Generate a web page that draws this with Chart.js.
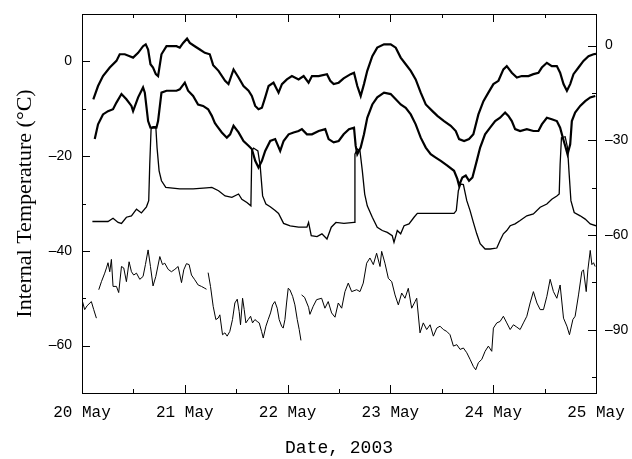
<!DOCTYPE html>
<html>
<head>
<meta charset="utf-8">
<script src="https://cdn.jsdelivr.net/npm/chart.js@4.4.1/dist/chart.umd.min.js"></script>
<style>
  html, body { margin: 0; padding: 0; background: #ffffff; }
  #wrap { width: 632px; height: 459px; }
</style>
</head>
<body>
<div id="wrap"><canvas id="c" width="632" height="459"></canvas></div>
<script>
// ---- Data (time in days after 20 May 2003 00:00) ----
const dateLabels = ['20 May', '21 May', '22 May', '23 May', '24 May', '25 May'];
const rightTickValues = [-105, -90, -75, -60, -45, -30, -15, 0];

const seriesATime = [0.110,0.156,0.204,0.270,0.335,0.367,0.416,0.464,0.497,0.546,0.594,0.620,0.643,0.666,0.691,0.718,0.740,0.773,0.822,0.919,0.951,0.984,1.022,1.049,1.097,1.146,1.195,1.243,1.276,1.328,1.392,1.425,1.474,1.523,1.571,1.620,1.652,1.685,1.717,1.750,1.782,1.815,1.863,1.912,1.945,1.993,2.042,2.107,2.156,2.204,2.237,2.302,2.383,2.415,2.448,2.497,2.545,2.613,2.646,2.678,2.711,2.743,2.775,2.824,2.872,2.938,3.003,3.052,3.100,3.149,3.198,3.246,3.295,3.344,3.409,3.457,3.522,3.587,3.636,3.668,3.717,3.765,3.807,3.856,3.905,3.953,4.002,4.051,4.099,4.132,4.181,4.230,4.278,4.343,4.391,4.440,4.473,4.522,4.570,4.619,4.651,4.684,4.717,4.749,4.781,4.830,4.878,4.927,4.976,5.000];
const seriesAVal  = [-8.0,-5.2,-3.1,-1.3,0.1,1.5,1.5,1.1,0.8,1.8,3.2,3.6,2.5,-0.6,-1.3,-2.7,-3.1,1.5,3.2,3.2,2.9,3.9,4.8,3.9,3.2,2.5,1.8,1.5,-0.8,-2.0,-4.1,-4.8,-1.7,-3.4,-5.2,-6.2,-7.3,-9.4,-10.1,-9.8,-7.6,-5.2,-4.5,-6.6,-4.8,-3.8,-3.1,-3.8,-3.1,-4.5,-3.1,-3.1,-2.7,-4.1,-4.8,-4.5,-3.6,-2.7,-2.4,-5.2,-7.3,-4.8,-2.0,1.1,2.9,3.6,3.6,2.9,0.8,-0.6,-2.0,-3.8,-6.6,-9.1,-10.5,-11.5,-12.6,-13.6,-14.7,-16.4,-16.8,-16.4,-15.4,-11.2,-8.4,-6.6,-4.8,-4.1,-1.7,-1.0,-2.4,-3.4,-3.1,-3.1,-2.7,-2.4,-1.3,-0.3,-1.0,-1.0,-2.4,-4.8,-6.2,-4.8,-2.7,-1.3,0.1,1.1,1.5,1.6];

const seriesBTime = [0.124,0.156,0.204,0.253,0.302,0.335,0.384,0.432,0.481,0.497,0.546,0.594,0.611,0.643,0.666,0.724,0.740,0.773,0.822,0.919,0.951,1.000,1.032,1.081,1.129,1.178,1.227,1.263,1.292,1.312,1.360,1.409,1.441,1.474,1.523,1.571,1.620,1.652,1.685,1.717,1.750,1.782,1.831,1.879,1.928,1.961,2.010,2.058,2.107,2.139,2.188,2.237,2.302,2.366,2.399,2.448,2.497,2.545,2.597,2.646,2.662,2.678,2.711,2.743,2.775,2.824,2.872,2.938,3.003,3.052,3.100,3.149,3.198,3.246,3.295,3.344,3.392,3.441,3.490,3.554,3.619,3.651,3.668,3.700,3.733,3.765,3.798,3.840,3.873,3.921,3.970,4.019,4.067,4.116,4.148,4.181,4.213,4.262,4.327,4.391,4.440,4.473,4.522,4.570,4.619,4.651,4.677,4.700,4.723,4.749,4.765,4.797,4.846,4.895,4.944,4.993];
const seriesBVal  = [-16.4,-13.3,-11.2,-10.5,-10.1,-8.7,-6.9,-8.0,-9.4,-10.5,-7.6,-5.5,-6.6,-12.6,-14.0,-14.0,-12.6,-6.6,-6.2,-6.2,-5.9,-4.5,-6.2,-7.3,-9.1,-9.4,-10.1,-11.5,-13.0,-13.6,-15.0,-16.1,-15.4,-13.6,-15.0,-16.8,-17.8,-18.5,-21.0,-22.4,-21.0,-18.9,-16.8,-16.4,-18.9,-16.8,-15.4,-15.0,-14.7,-14.3,-15.4,-15.4,-14.7,-14.3,-16.4,-17.1,-16.8,-15.4,-14.3,-14.0,-17.8,-19.6,-18.2,-15.4,-11.9,-9.1,-7.6,-6.6,-6.9,-8.0,-9.1,-9.8,-11.2,-13.3,-16.1,-18.2,-19.6,-20.3,-21.0,-22.0,-23.1,-24.8,-26.2,-24.5,-24.1,-25.2,-24.5,-21.0,-18.2,-15.4,-14.0,-12.6,-11.9,-10.8,-11.5,-12.6,-14.3,-14.7,-14.3,-14.7,-14.7,-13.3,-11.9,-12.2,-12.6,-14.0,-16.1,-17.8,-19.6,-17.5,-12.6,-10.8,-9.4,-8.4,-7.6,-7.3];

const seriesCTime = [0.101,0.253,0.302,0.351,0.384,0.432,0.481,0.530,0.578,0.627,0.649,0.659,0.672,0.691,0.718,0.730,0.750,0.773,0.815,0.951,1.081,1.211,1.263,1.328,1.392,1.458,1.523,1.555,1.604,1.643,1.652,1.669,1.711,1.733,1.757,1.789,1.831,1.879,1.912,1.961,2.025,2.107,2.188,2.204,2.230,2.286,2.334,2.383,2.425,2.470,2.548,2.646,2.655,2.678,2.704,2.727,2.750,2.775,2.824,2.872,2.921,2.970,3.018,3.035,3.067,3.100,3.133,3.181,3.230,3.262,3.392,3.619,3.641,3.661,3.684,3.710,3.743,3.775,3.807,3.840,3.873,3.921,3.970,4.035,4.067,4.099,4.132,4.165,4.213,4.262,4.327,4.391,4.457,4.522,4.570,4.619,4.642,4.651,4.664,4.700,4.723,4.739,4.756,4.788,4.846,4.895,4.944,5.000];
const seriesCVal  = [-33.8,-33.8,-33.1,-34.0,-34.2,-32.9,-32.6,-31.2,-32.0,-30.7,-29.4,-21.7,-14.3,-13.8,-13.8,-18.2,-23.1,-25.2,-26.6,-26.9,-26.9,-26.7,-26.6,-27.3,-28.4,-28.7,-28.0,-29.1,-29.8,-30.5,-18.9,-18.3,-18.9,-22.0,-28.4,-30.1,-30.7,-31.5,-32.1,-34.2,-34.7,-35.0,-35.0,-34.0,-36.8,-37.0,-36.4,-37.5,-35.0,-34.0,-34.2,-34.0,-19.6,-18.5,-18.9,-23.1,-28.0,-30.5,-32.9,-35.0,-35.7,-36.1,-36.8,-38.2,-35.7,-36.4,-34.7,-34.3,-32.9,-32.1,-32.1,-32.1,-31.5,-27.3,-25.9,-26.0,-29.4,-31.5,-34.0,-36.4,-38.5,-39.6,-39.6,-39.4,-37.8,-36.4,-35.7,-34.7,-34.3,-33.6,-32.6,-32.2,-30.8,-30.1,-29.1,-28.4,-28.0,-21.7,-16.1,-15.9,-18.2,-23.8,-29.4,-31.9,-32.6,-33.3,-34.3,-34.7];

// null values mark the gaps in the record
const seriesDTime = [0.000,0.026,0.049,0.091,0.114,0.140,0.150,
  0.163,0.189,0.221,0.238,0.253,0.270,0.286,0.302,0.335,0.357,0.384,0.406,0.432,0.458,0.481,0.503,0.530,0.562,0.594,0.617,0.643,0.666,0.691,0.718,0.757,0.783,0.805,0.838,0.870,0.903,0.935,0.968,0.990,1.016,1.042,1.065,1.097,1.130,1.162,1.195,1.211,1.219,
  1.227,1.250,1.276,1.302,1.324,1.341,1.367,1.390,1.412,1.438,1.464,1.487,1.510,1.529,1.542,1.562,1.578,1.594,1.617,1.640,1.659,1.682,1.704,1.724,1.747,1.763,1.789,1.811,1.834,1.854,1.876,1.899,1.918,1.942,1.957,1.974,1.990,2.006,2.022,2.049,2.071,2.094,2.113,2.130,2.133,
  2.136,2.165,2.204,2.217,2.249,2.282,2.331,2.363,2.395,2.428,2.461,2.493,2.526,2.558,2.590,2.623,2.672,2.704,2.736,2.769,2.801,2.834,2.866,2.899,2.915,2.947,2.980,3.013,3.045,3.077,3.110,3.142,3.174,3.207,3.240,3.256,3.288,3.320,3.353,3.386,3.418,3.451,3.483,3.515,3.548,3.580,3.613,3.646,3.678,3.710,3.743,3.775,3.807,3.830,3.856,3.889,3.921,3.953,3.986,4.002,4.035,4.067,4.099,4.132,4.165,4.197,4.230,4.262,4.294,4.327,4.359,4.391,4.425,4.457,4.489,4.522,4.554,4.586,4.619,4.651,4.684,4.717,4.742,4.775,4.797,4.830,4.862,4.878,4.905,4.921,4.944,4.960,4.976,4.992];
const seriesDVal  = [-50.3,-52.4,-51.6,-50.7,-52.4,-54.2,null,
  -48.2,-46.5,-44.7,-43.6,-42.5,-44.4,-41.8,-47.5,-47.5,-48.8,-43.3,-43.6,-46.5,-42.3,-44.4,-45.1,-44.7,-46.0,-45.4,-42.9,-39.8,-43.3,-47.4,-45.4,-41.2,-42.9,-42.6,-43.9,-44.4,-43.9,-43.3,-46.7,-44.0,-42.7,-42.9,-45.1,-46.1,-47.2,-47.5,-47.9,-48.1,null,
  -44.6,-47.5,-51.7,-54.5,-54.2,-53.5,-57.7,-57.3,-58.0,-57.0,-54.5,-51.0,-50.2,-52.8,-55.6,-50.0,-52.4,-55.2,-54.5,-53.8,-55.2,-54.5,-54.9,-55.2,-57.0,-58.4,-55.9,-54.5,-53.1,-51.4,-50.7,-52.1,-54.5,-55.9,-56.3,-54.5,-51.0,-47.9,-48.2,-49.6,-51.4,-54.5,-56.6,-58.9,null,
  -49.3,-49.8,-51.9,-53.4,-51.7,-50.3,-50.0,-52.1,-50.7,-53.1,-54.0,-51.0,-52.1,-48.6,-46.8,-48.6,-48.2,-48.6,-46.8,-42.6,-41.5,-42.9,-40.5,-43.3,-40.1,-42.6,-45.8,-46.5,-49.3,-51.4,-48.9,-50.0,-47.9,-52.1,-50.7,-50.0,-57.3,-55.2,-56.6,-55.6,-58.0,-56.3,-55.9,-56.6,-57.0,-57.7,-60.1,-59.8,-60.8,-60.5,-61.5,-62.9,-64.4,-65.1,-63.6,-62.9,-61.2,-60.1,-61.2,-56.3,-55.2,-54.9,-53.8,-55.2,-56.6,-55.6,-56.1,-56.6,-55.2,-53.8,-51.0,-48.6,-51.0,-52.4,-52.4,-49.6,-46.0,-48.6,-50.0,-47.2,-54.2,-55.9,-57.7,-54.5,-53.8,-49.3,-44.4,-44.0,-48.6,-44.0,-39.9,-42.9,-42.5,-43.3];

function pts(ts, vs) { return ts.map((t, i) => ({ x: t, y: vs[i] })); }

// ---- inward tick marks on all four sides, positioned by the scales ----
const innerTicks = {
  id: 'innerTicks',
  afterDraw(chart) {
    const ctx = chart.ctx, a = chart.chartArea;
    const x = chart.scales.x, y = chart.scales.y, y2 = chart.scales.y2;
    ctx.save();
    ctx.strokeStyle = '#000';
    ctx.lineWidth = 1;
    const seg = (p1, q1, p2, q2) => { ctx.beginPath(); ctx.moveTo(p1, q1); ctx.lineTo(p2, q2); ctx.stroke(); };
    x.ticks.forEach(t => {
      if (t.value <= x.min || t.value >= x.max) return;
      const px = Math.round(x.getPixelForValue(t.value)) + 0.5;
      const len = Number.isInteger(t.value) ? 8 : 4;
      seg(px, a.bottom, px, a.bottom - len);
      seg(px, a.top, px, a.top + len);
    });
    y.ticks.forEach(t => {
      if (t.value <= y.min || t.value >= y.max) return;
      const py = Math.round(y.getPixelForValue(t.value)) + 0.5;
      const len = t.value % 20 === 0 ? 8 : 4;
      seg(a.left, py, a.left + len, py);
    });
    y2.ticks.forEach(t => {
      if (t.value <= y2.min || t.value >= y2.max) return;
      const py = Math.round(y2.getPixelForValue(t.value)) + 0.5;
      const len = t.value % 30 === 0 ? 8 : 4;
      seg(a.right, py, a.right - len, py);
    });
    ctx.restore();
  }
};

const dash = v => String(v).replace('-', '\u2013');

new Chart(document.getElementById('c'), {
  type: 'line',
  data: {
    datasets: [
      { data: pts(seriesATime, seriesAVal), borderColor: '#000', borderWidth: 2.2, pointRadius: 0, tension: 0, yAxisID: 'y' },
      { data: pts(seriesBTime, seriesBVal), borderColor: '#000', borderWidth: 2.2, pointRadius: 0, tension: 0, yAxisID: 'y' },
      { data: pts(seriesCTime, seriesCVal), borderColor: '#000', borderWidth: 1.3, pointRadius: 0, tension: 0, yAxisID: 'y' },
      { data: pts(seriesDTime, seriesDVal), borderColor: '#000', borderWidth: 1, pointRadius: 0, tension: 0, spanGaps: false, yAxisID: 'y' }
    ]
  },
  options: {
    responsive: false,
    animation: false,
    devicePixelRatio: 1,
    layout: { padding: 0 },
    plugins: { legend: { display: false }, tooltip: { enabled: false } },
    scales: {
      x: {
        type: 'linear', position: 'bottom', min: 0, max: 5,
        afterFit: s => { s.height = 66; s.paddingLeft = 0; s.paddingRight = 0; },
        grid: { display: false, drawTicks: false },
        border: { display: true, color: '#000', width: 1 },
        ticks: {
          stepSize: 0.5, autoSkip: false, maxRotation: 0, padding: 10,
          color: '#000', font: { family: 'Liberation Mono', size: 16 },
          callback: v => Number.isInteger(v) ? dateLabels[v] : ''
        },
        title: { display: true, text: 'Date, 2003', color: '#000', padding: { top: 0, bottom: 0 },
                 font: { family: 'Liberation Mono', size: 18 } }
      },
      x2: {
        type: 'linear', position: 'top', min: 0, max: 5,
        afterFit: s => { s.height = 14; s.paddingLeft = 0; s.paddingRight = 0; },
        grid: { display: false, drawTicks: false },
        border: { display: true, color: '#000', width: 1 },
        ticks: { display: false }
      },
      y: {
        type: 'linear', position: 'left', min: -70, max: 10,
        afterFit: s => { s.width = 82; s.paddingTop = 0; s.paddingBottom = 0; },
        grid: { display: false, drawTicks: false },
        border: { display: true, color: '#000', width: 1 },
        ticks: {
          stepSize: 10, autoSkip: false, padding: 10, color: '#000',
          font: { family: 'Liberation Sans', size: 14 },
          callback: v => (v % 20 === 0 && v !== 10) ? dash(v) : ''
        },
        title: { display: true, text: 'Internal Temperature (\u00B0C)', color: '#000',
                 padding: { top: 12, bottom: 0 },
                 font: { family: 'Liberation Serif', size: 22 } }
      },
      y2: {
        type: 'linear', position: 'right', min: -110, max: 10,
        afterBuildTicks: s => { s.ticks = rightTickValues.map(v => ({ value: v })); },
        afterFit: s => { s.width = 36; s.paddingTop = 0; s.paddingBottom = 0; },
        grid: { display: false, drawTicks: false },
        border: { display: true, color: '#000', width: 1 },
        ticks: {
          autoSkip: false, padding: 9, color: '#000',
          font: { family: 'Liberation Sans', size: 14 },
          callback: v => (v % 30 === 0) ? dash(v) : ''
        }
      }
    }
  },
  plugins: [innerTicks]
});
</script>
</body>
</html>
